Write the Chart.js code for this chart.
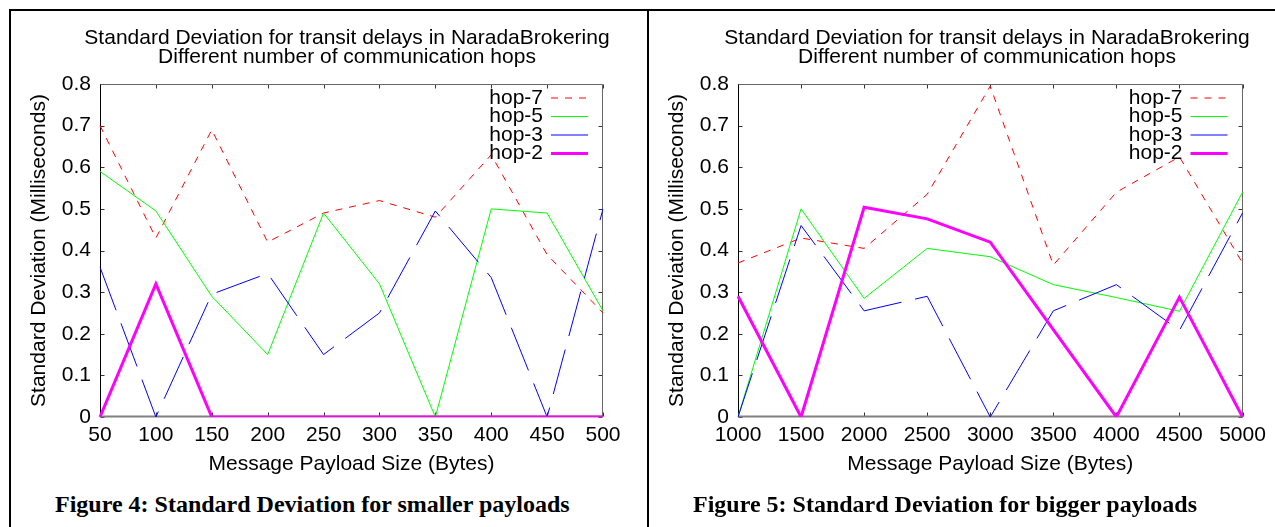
<!DOCTYPE html>
<html>
<head>
<meta charset="utf-8">
<script src="https://cdn.jsdelivr.net/npm/chart.js@4.4.0/dist/chart.umd.min.js"></script>
<style>
  html, body { margin: 0; padding: 0; background: #fff; }
  body { width: 1275px; height: 527px; position: relative; overflow: hidden; }
  .rule { position: absolute; background: #000; }
  .panel { position: absolute; top: 12px; height: 470px; }
  .caption { position: absolute; top: 492px; font: bold 24px "Liberation Serif", "Times New Roman", serif; line-height: 24px; white-space: nowrap; color: #000; }
</style>
</head>
<body>
<div class="rule" style="left:9px;top:9px;width:1266px;height:2px"></div>
<div class="rule" style="left:9px;top:9px;width:2px;height:518px"></div>
<div class="rule" style="left:647px;top:9px;width:2px;height:518px"></div>

<div class="panel" style="left:12px;width:670px"><canvas id="chartSmall"></canvas></div>
<div class="panel" style="left:650px;width:674px"><canvas id="chartBig"></canvas></div>

<div class="caption" style="left:55px">Figure 4: Standard Deviation for smaller payloads</div>
<div class="caption" style="left:693px">Figure 5: Standard Deviation for bigger payloads</div>

<script>
// --- Data ---

const titleLines = ['Standard Deviation for transit delays in NaradaBrokering', 'Different number of communication hops'];
const yTickLabels = ['0', '0.1', '0.2', '0.3', '0.4', '0.5', '0.6', '0.7', '0.8'];

// Figure 4: smaller payloads
const smallSizes = ['50', '100', '150', '200', '250', '300', '350', '400', '450', '500'];
const smallHop7 = [0.70, 0.43, 0.69, 0.42, 0.49, 0.52, 0.48, 0.63, 0.39, 0.25];
const smallHop5 = [0.59, 0.495, 0.29, 0.15, 0.49, 0.32, 0.0, 0.50, 0.49, 0.255];
const smallHop3 = [0.36, 0.0, 0.295, 0.345, 0.15, 0.25, 0.495, 0.335, 0.0, 0.50];
const smallHop2 = [0, 0.32, 0, 0, 0, 0, 0, 0, 0, 0];

// Figure 5: bigger payloads
const bigSizes = ['1000', '1500', '2000', '2500', '3000', '3500', '4000', '4500', '5000'];
const bigHop7 = [0.37, 0.43, 0.405, 0.535, 0.795, 0.365, 0.54, 0.625, 0.37];
const bigHop5 = [0.0, 0.50, 0.285, 0.405, 0.385, 0.318, 0.287, 0.254, 0.54];
const bigHop3 = [0.0, 0.46, 0.255, 0.29, 0.0, 0.255, 0.318, 0.208, 0.49];
const bigHop2 = [0.29, 0.0, 0.504, 0.476, 0.42, 0.21, 0.0, 0.288, 0.0];

const FONT = '"Liberation Sans", Arial, sans-serif';
Chart.defaults.font.family = FONT;
Chart.defaults.color = '#000';

// --- Plugins ---

// gnuplot style box with inward ticks on all four sides
const frameTicks = {
    id: 'frameTicks',
    beforeDatasetsDraw(chart) {
        const { ctx, chartArea: a, scales: { x, y } } = chart;
        const L = Math.round(a.left) + 0.5, R = Math.round(a.right) - 0.5;
        const T = Math.round(a.top) + 0.5, B = Math.round(a.bottom) - 0.5;
        ctx.save();
        ctx.lineWidth = 1;
        ctx.strokeStyle = '#333';
        ctx.beginPath();
        x.ticks.forEach((t, i) => {
            const px = Math.round(x.getPixelForTick(i)) + 0.5;
            ctx.moveTo(px, B); ctx.lineTo(px, B - 4);
            ctx.moveTo(px, T); ctx.lineTo(px, T + 4);
        });
        y.ticks.forEach(t => {
            const py = Math.round(y.getPixelForValue(t.value)) + 0.5;
            ctx.moveTo(L, py); ctx.lineTo(L + 4, py);
            ctx.moveTo(R, py); ctx.lineTo(R - 4, py);
        });
        ctx.stroke();

        ctx.strokeStyle = '#666';
        ctx.beginPath();
        ctx.moveTo(L, T); ctx.lineTo(R, T); ctx.lineTo(R, B);
        ctx.stroke();
        ctx.strokeStyle = '#000';
        ctx.beginPath();
        ctx.moveTo(L, T); ctx.lineTo(L, B);
        ctx.stroke();
        ctx.strokeStyle = '#808080';
        ctx.lineWidth = 2;
        ctx.beginPath();
        ctx.moveTo(L, B); ctx.lineTo(R, B);
        ctx.stroke();
        ctx.restore();
    }
};

// key in the top right corner of the plot
const insideKey = {
    id: 'insideKey',
    afterDatasetsDraw(chart) {
        const { ctx, chartArea: a } = chart;
        ctx.save();
        ctx.font = '21px ' + FONT;
        ctx.textAlign = 'right';
        ctx.textBaseline = 'middle';
        chart.data.datasets.forEach((ds, i) => {
            const yy = a.top + 14 + i * 18.5;
            ctx.fillStyle = '#000';
            ctx.fillText(ds.label, a.right - 60, yy);
            ctx.strokeStyle = ds.borderColor;
            ctx.lineWidth = ds.borderWidth;
            ctx.setLineDash(ds.borderDash || []);
            ctx.beginPath();
            ctx.moveTo(a.right - 52, yy);
            ctx.lineTo(a.right - 15, yy);
            ctx.stroke();
        });
        ctx.restore();
    }
};

// rightGap: blank space right of the plot (an empty right axis), so the
// title stays centred on the whole canvas like gnuplot does
function makeChart(id, labels, h7, h5, h3, h2, rightGap) {
    const ctx = document.getElementById(id).getContext('2d');
    return new Chart(ctx, {
        type: 'line',
        data: {
            labels: labels,
            datasets: [
                { label: 'hop-7', data: h7, borderColor: '#ff0000', borderWidth: 1, borderDash: [7, 7], order: 3 },
                { label: 'hop-5', data: h5, borderColor: '#00ff00', borderWidth: 1, order: 2 },
                { label: 'hop-3', data: h3, borderColor: '#0000ff', borderWidth: 1, borderDash: [46, 14], order: 1 },
                { label: 'hop-2', data: h2, borderColor: '#ff00ff', borderWidth: 3, order: 0 }
            ]
        },
        options: {
            responsive: true,
            maintainAspectRatio: false,
            animation: false,
            layout: { padding: 0 },
            elements: { point: { radius: 0 }, line: { tension: 0, fill: false } },
            plugins: {
                legend: { display: false },
                tooltip: { enabled: false },
                title: {
                    display: true,
                    text: titleLines,
                    color: '#000',
                    font: { size: 21, weight: 'normal', lineHeight: 0.9 },
                    padding: { top: 16.5, bottom: 17.7 }
                }
            },
            scales: {
                x: {
                    grid: { display: false, drawTicks: false },
                    border: { display: false },
                    ticks: { color: '#000', font: { size: 21 }, padding: 6, autoSkip: false, maxRotation: 0 },
                    title: {
                        display: true, text: 'Message Payload Size (Bytes)', color: '#000',
                        font: { size: 21, lineHeight: 1 }, padding: { top: 0, bottom: 7 }
                    },
                    afterFit(s) { s.height = 65; }
                },
                y: {
                    min: 0,
                    max: 0.8,
                    grid: { display: false, drawTicks: false },
                    border: { display: false },
                    ticks: {
                        stepSize: 0.1, color: '#000', font: { size: 21 }, padding: 9,
                        callback: v => yTickLabels[Math.round(v * 10)]
                    },
                    title: {
                        display: true, text: 'Standard Deviation (Milliseconds)', color: '#000',
                        font: { size: 21, lineHeight: 1 }, padding: { top: 17, bottom: 0 }
                    },
                    afterFit(s) { s.width = 88; }
                },
                gap: {
                    type: 'linear',
                    position: 'right',
                    min: 0,
                    max: 0.8,
                    grid: { display: false, drawTicks: false },
                    border: { display: false },
                    ticks: { display: false },
                    afterFit(s) { s.width = rightGap; }
                }
            }
        },
        plugins: [frameTicks, insideKey]
    });
}

makeChart('chartSmall', smallSizes, smallHop7, smallHop5, smallHop3, smallHop2, 79);
makeChart('chartBig', bigSizes, bigHop7, bigHop5, bigHop3, bigHop2, 81.5);
</script>
</body>
</html>
